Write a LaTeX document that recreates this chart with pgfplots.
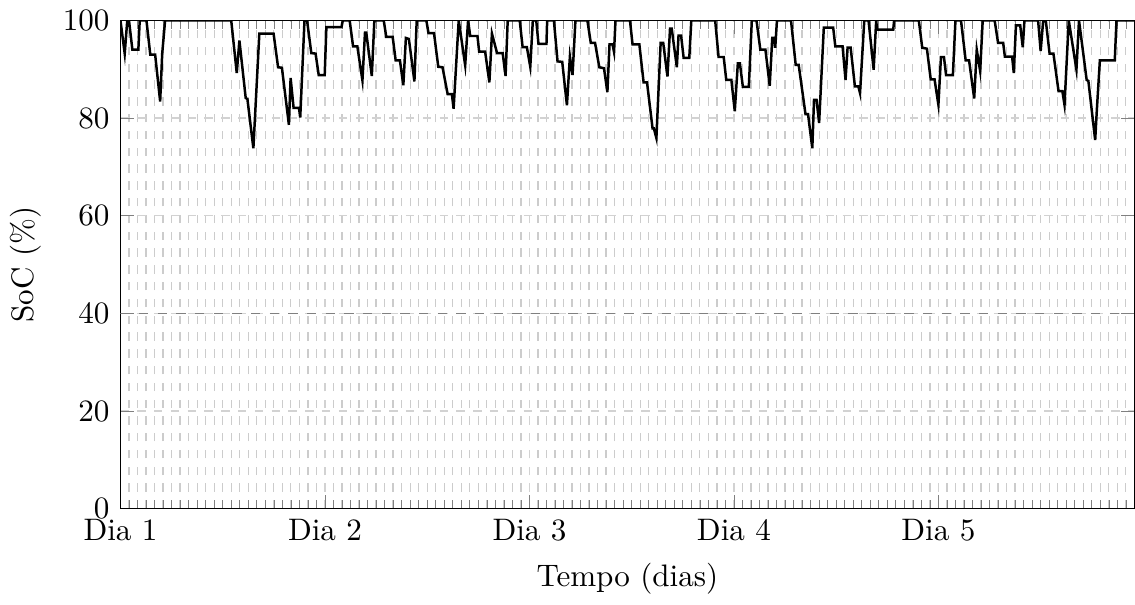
\documentclass[border=0pt]{standalone}
\usepackage{pgfplots}
\pgfplotsset{compat=1.18}
\begin{document}
\begin{tikzpicture}
\begin{axis}[
  scale only axis,
  width=326pt, height=157pt,
  xmin=0, xmax=119, ymin=0, ymax=100,
  xtick={0,24,48,72,96},
  xticklabels={Dia 1,Dia 2,Dia 3,Dia 4,Dia 5},
  minor xtick={0,1,...,119},
  ytick={0,20,40,60,80,100},
  grid=both,
  major grid style={dash pattern=on 2.7pt off 2.7pt, gray!35},
  minor grid style={dash pattern=on 2.7pt off 2.7pt, gray!40},
  xlabel={Tempo (dias)},
  ylabel={SoC (\%)},
  tick align=inside,
]
\addplot[gray, dashed, forget plot] coordinates {(0,40) (119,40)};
\addplot[black, thick] coordinates {
(0,100) (0.5,93.2) (0.8,100) (1.0,100) (1.4,94) (2.1,94) (2.26,100) (3.05,100) (3.5,93) (4.07,93) (4.66,83.4) (4.9,93.2) (5.24,100) (13.0,100) (13.65,89.2) (13.96,95.9) (14.7,84.1) (14.9,83.9) (15.6,73.8) (16.3,97.3) (17.97,97.3) (18.5,90.4) (18.95,90.3) (19.77,78.6) (19.97,88.2) (20.32,82.1) (20.95,82.1) (21.1,80.1) (21.6,100) (21.9,100) (22.4,93.3) (22.9,93.2) (23.27,88.8) (23.97,88.8) (24.17,98.6) (25.94,98.6) (26.1,100) (26.9,100) (27.3,94.7) (27.8,94.7) (28.4,87.7) (28.7,97.5) (28.85,97.5) (29.5,88.6) (29.8,100) (30.9,100) (31.2,96.6) (31.95,96.6) (32.3,91.8) (32.8,91.8) (33.2,86.7) (33.5,96.4) (33.85,96.2) (34.5,87.5) (34.77,100) (35.9,100) (36.15,97.4) (36.8,97.4) (37.3,90.5) (37.8,90.4) (38.4,84.9) (38.9,84.9) (39.1,81.9) (39.7,100) (40.46,90.8) (40.8,100) (41.05,96.8) (41.9,96.8) (42.1,93.6) (42.8,93.6) (43.3,87.3) (43.6,97.3) (44.2,93.3) (44.86,93.3) (45.2,88.6) (45.45,100) (46.86,100) (47.2,94.5) (47.7,94.5) (48.1,90.5) (48.4,100) (48.8,100) (49.06,95.2) (50.0,95.2) (50.08,100) (50.87,100) (51.3,91.6) (51.85,91.5) (52.4,82.6) (52.75,92.6) (53.06,88.8) (53.4,100) (54.8,100) (55.2,95.4) (55.7,95.4) (56.2,90.4) (56.75,90.2) (57.15,85.3) (57.4,95.1) (57.75,95.1) (57.93,93.5) (58.1,100) (59.8,100) (60.1,95.1) (60.9,95.1) (61.4,87.3) (61.8,87.3) (62.45,77.9) (62.6,77.9) (62.9,75.9) (63.4,95.4) (63.7,95.4) (64.2,88.5) (64.5,98.3) (64.7,98.3) (65.3,90.4) (65.5,96.9) (65.8,96.9) (66.1,92.3) (66.76,92.3) (67.0,100) (69.8,100) (70.2,92.5) (70.8,92.5) (71.1,87.8) (71.7,87.8) (72.1,81.4) (72.46,91.2) (72.7,91.2) (73.05,86.4) (73.75,86.4) (74.1,100) (74.65,100) (75.1,94) (75.7,94) (76.2,86.6) (76.5,96.4) (76.7,96.4) (76.85,94.4) (77.05,100) (78.7,100) (79.25,90.9) (79.6,90.9) (80.4,80.8) (80.7,80.8) (81.2,73.8) (81.4,83.7) (81.7,83.7) (82.0,79) (82.55,98.5) (83.65,98.5) (83.9,94.7) (84.75,94.7) (85.1,87.8) (85.34,94.4) (85.7,94.4) (86.2,86.5) (86.6,86.5) (86.8,85.1) (87.3,100) (87.8,100) (88.4,89.9) (88.7,100) (88.8,98.1) (90.7,98.1) (90.8,100) (93.7,100) (94.1,94.4) (94.65,94.2) (95.1,87.9) (95.55,87.9) (96.0,82.7) (96.3,92.5) (96.65,92.5) (96.9,88.8) (97.7,88.8) (98.0,100) (98.65,100) (99.2,91.8) (99.6,91.8) (100.2,84) (100.5,94) (100.9,89.6) (101.2,100) (102.6,100) (103.0,95.4) (103.6,95.4) (103.8,92.6) (104.65,92.6) (104.85,89.2) (105.1,99) (105.6,99) (105.9,94.5) (106.1,100) (107.7,100) (108.0,93.7) (108.3,100) (108.6,100) (109.05,93.2) (109.5,93.2) (110.1,85.5) (110.55,85.5) (110.8,82.7) (111.3,100) (112.2,89.9) (112.5,100) (113.4,87.8) (113.6,87.6) (114.4,75.5) (114.6,81.8) (114.95,91.8) (116.7,91.8) (116.9,100) (119,100)
};
\end{axis}
\end{tikzpicture}
\end{document}
